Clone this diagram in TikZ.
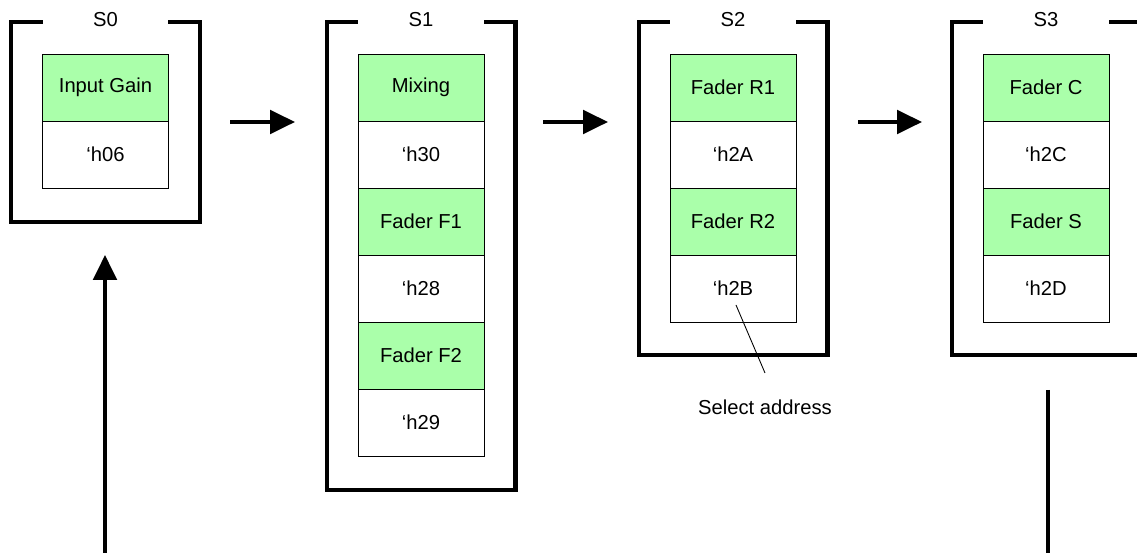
\documentclass[tikz,border=0pt]{standalone}
\usepackage{fontspec}
\setmainfont{Liberation Sans}
\usetikzlibrary{arrows.meta}
\definecolor{cellgreen}{RGB}{170,255,170}
\tikzset{
  stagebox/.style={draw,line width=2.3pt,minimum width=3.78cm,inner sep=0pt},
  stagetag/.style={fill=white,minimum width=2.52cm,minimum height=0.4cm,inner sep=0pt},
  paramcell/.style={draw,line width=0.5pt,fill=cellgreen,minimum width=2.52cm,minimum height=1.34cm,inner sep=0pt},
  addrcell/.style={draw,line width=0.5pt,fill=white,minimum width=2.52cm,minimum height=1.34cm,inner sep=0pt},
  flow/.style={line width=2.3pt,-{Triangle[length=0.5cm,width=0.47cm]}}
}
\begin{document}
\begin{tikzpicture}[x=0.02cm,y=-0.02cm,font=\fontsize{11.5}{13}\selectfont]
        \clip (0,0) rectangle (1137,553);
        \node[stagebox,minimum height=4cm]    (f0) at (105.5,122) {};
        \node[stagebox,minimum height=9.36cm] (f1) at (421,256) {};
        \node[stagebox,minimum height=6.66cm] (f2) at (733,188.5) {};
        \node[stagebox,minimum height=6.66cm] (f3) at (1046,188.5) {};
        \node[stagetag] (s0) at (f0.north) {S0};
        \node[stagetag] (s1) at (f1.north) {S1};
        \node[stagetag] (s2) at (f2.north) {S2};
        \node[stagetag] (s3) at (f3.north) {S3};

        \node[paramcell] (gain) at (105.5,87.5)  {Input Gain};
        \node[addrcell]  (h06)  at (105.5,154.5) {`h06};

        \node[paramcell] (mix)  at (421,87.5)  {Mixing};
        \node[addrcell]  (h30)  at (421,154.5) {`h30};
        \node[paramcell] (ff1)  at (421,221.5) {Fader F1};
        \node[addrcell]  (h28)  at (421,288.5) {`h28};
        \node[paramcell] (ff2)  at (421,355.5) {Fader F2};
        \node[addrcell]  (h29)  at (421,422.5) {`h29};

        \node[paramcell] (fr1)  at (733,87.5)  {Fader R1};
        \node[addrcell]  (h2A)  at (733,154.5) {`h2A};
        \node[paramcell] (fr2)  at (733,221.5) {Fader R2};
        \node[addrcell]  (h2B)  at (733,288.5) {`h2B};

        \node[paramcell] (fc)   at (1046,87.5)  {Fader C};
        \node[addrcell]  (h2C)  at (1046,154.5) {`h2C};
        \node[paramcell] (fs)   at (1046,221.5) {Fader S};
        \node[addrcell]  (h2D)  at (1046,288.5) {`h2D};

        \node (sel) at (765,407) {Select address};
        \coordinate (pin) at (736,305);
        \coordinate (pinend) at (765,373);
        \draw[line width=0.5pt] (pin) -- (pinend);

        \coordinate (a0) at (230,122);
        \coordinate (b0) at (295,122);
        \coordinate (a1) at (543,122);
        \coordinate (b1) at (608,122);
        \coordinate (a2) at (858,122);
        \coordinate (b2) at (922,122);
        \draw[flow] (a0) -- (b0);
        \draw[flow] (a1) -- (b1);
        \draw[flow] (a2) -- (b2);

        \coordinate (inp) at (105,555);
        \coordinate (tip) at (105,255);
        \draw[flow] (inp) -- (tip);
        \coordinate (outt) at (1048,390);
        \coordinate (outb) at (1048,555);
        \draw[line width=2.3pt] (outt) -- (outb);
\end{tikzpicture}
\end{document}
